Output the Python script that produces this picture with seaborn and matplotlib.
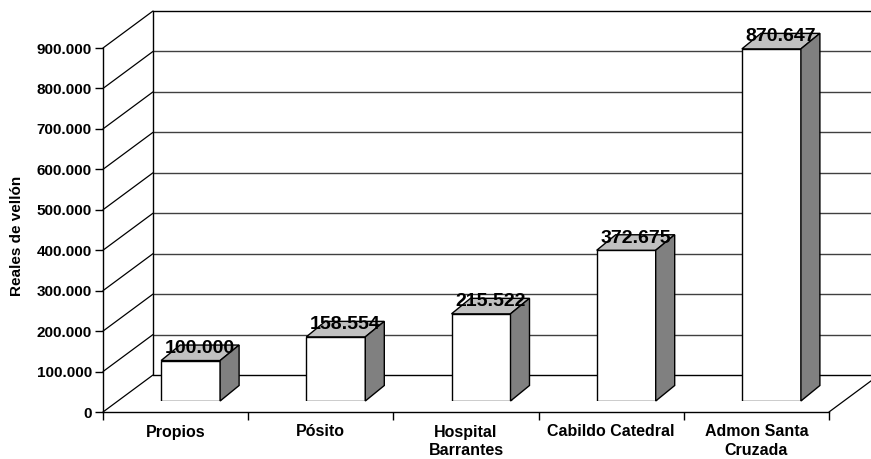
import numpy as np
import pandas as pd
import seaborn as sns
import matplotlib
matplotlib.use("Agg")
import matplotlib.pyplot as plt
from matplotlib.patches import Polygon
from matplotlib.lines import Line2D

# Data
categories = ["Propios", "Pósito", "Hospital\nBarrantes", "Cabildo Catedral", "Admon Santa\nCruzada"]
values = [100000, 158554, 215522, 372675, 870647]
y_ticks = [0, 100000, 200000, 300000, 400000, 500000, 600000, 700000, 800000, 900000]
y_label = "Reales de vellón"

sns.set_theme(style="white")
plt.rcParams["font.family"] = ["Liberation Sans", "DejaVu Sans"]
plt.rcParams["font.weight"] = "bold"
plt.rcParams["text.color"] = "black"
plt.rcParams["axes.labelcolor"] = "black"
plt.rcParams["xtick.color"] = "black"
plt.rcParams["ytick.color"] = "black"

W, H, DPI = 871, 459, 100
fig = plt.figure(figsize=(W / DPI, H / DPI), dpi=DPI)
fig.patch.set_facecolor("white")

# front plane of the 3-D box, in pixels
fx0, fx1, fy0, fy1 = 103, 829, 412, 48
ax = fig.add_axes([fx0 / W, 1 - fy0 / H, (fx1 - fx0) / W, (fy0 - fy1) / H])
ax.set_xlim(-0.5, len(categories) - 0.5)
ax.set_ylim(0, y_ticks[-1])
ax.set_facecolor("none")

px_x = (len(categories)) / (fx1 - fx0)          # category units per pixel
px_y = y_ticks[-1] / (fy0 - fy1)                 # value units per pixel

# wall depth (oblique projection)
wdx, wdy = 50 * px_x, 37 * px_y
xl, xr = -0.5, len(categories) - 0.5
for v in y_ticks:
    # left wall diagonals
    ax.add_line(Line2D([xl, xl + wdx], [v, v + wdy], color="black", lw=0.9, clip_on=False))
    # back wall horizontal lines
    col = "black" if v in (y_ticks[0], y_ticks[-1]) else "#404040"
    ax.add_line(Line2D([xl + wdx, xr + wdx + 0.2], [v + wdy, v + wdy], color=col, lw=1.0, clip_on=False))
ax.add_line(Line2D([xl + wdx, xl + wdx], [wdy, y_ticks[-1] + wdy], color="black", lw=1.0, clip_on=False))
ax.add_line(Line2D([xr, xr + wdx], [0, wdy], color="black", lw=0.9, clip_on=False))

for s in ["top", "right"]:
    ax.spines[s].set_visible(False)
for s in ["left", "bottom"]:
    ax.spines[s].set_color("black")
    ax.spines[s].set_linewidth(1.0)

ax.set_yticks(y_ticks)
ax.set_yticklabels([f"{v:,}".replace(",", ".") for v in y_ticks], fontsize=11, fontweight="bold")
ax.tick_params(axis="y", direction="out", length=6, width=1, color="black", labelcolor="black", pad=2, left=True)
ax.set_xticks(np.arange(-0.5, len(categories)), labels=[])
ax.tick_params(axis="x", which="major", direction="out", length=6, width=1, color="black", bottom=True)
ax.set_xticks(np.arange(len(categories)), labels=categories, minor=True)
ax.tick_params(axis="x", which="minor", length=0, pad=9, labelsize=11.5, labelcolor="black")
for t in ax.get_xticklabels(minor=True):
    t.set_fontweight("bold")
    t.set_linespacing(1.3)
ax.set_ylabel(y_label, fontsize=11, fontweight="bold", color="black")
ax.yaxis.set_label_coords(-(fx0 - 24) / (fx1 - fx0), (fy0 - 236) / (fy0 - fy1))
ax.grid(False)

# bars sit part-way into the box
bx, by = 15, 11
axb = fig.add_axes([(fx0 + bx) / W, 1 - (fy0 - by) / H, (fx1 - fx0) / W, (fy0 - fy1) / H])
df = pd.DataFrame({"cat": categories, "val": values})
sns.barplot(data=df, x="cat", y="val", ax=axb, color="white", edgecolor="black",
            linewidth=1.0, width=59 / 145.2, saturation=1)
axb.set_xlim(-0.5, len(categories) - 0.5)
axb.set_ylim(0, y_ticks[-1])
axb.axis("off")

bdx, bdy = 19 * px_x, 15.5 * px_y
for p, v in zip(axb.patches, values):
    x, w, h = p.get_x(), p.get_width(), p.get_height()
    top = Polygon([(x, h), (x + w, h), (x + w + bdx, h + bdy), (x + bdx, h + bdy)],
                  closed=True, facecolor="#C0C0C0", edgecolor="black", lw=1.0, clip_on=False)
    side = Polygon([(x + w, 0), (x + w, h), (x + w + bdx, h + bdy), (x + w + bdx, bdy)],
                   closed=True, facecolor="#808080", edgecolor="black", lw=1.0, clip_on=False)
    axb.add_patch(top)
    axb.add_patch(side)
    axb.text(x + w / 2 + bdx / 2, h + bdy / 2, f"{v:,}".replace(",", "."),
             ha="center", va="baseline", fontsize=14, fontweight="bold", color="black")

fig.savefig("out.png", dpi=DPI, facecolor="white")
